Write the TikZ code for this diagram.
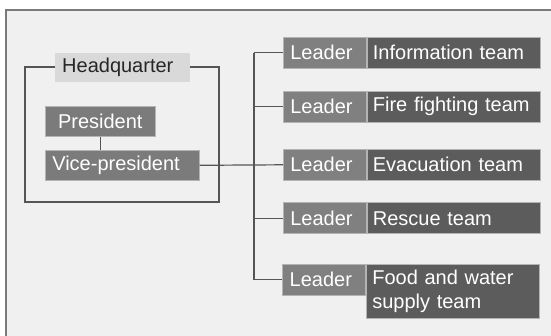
\documentclass[tikz,border=0pt]{standalone}
\usepackage{fontspec}
\setmainfont{Liberation Sans}
\definecolor{bgc}{HTML}{F0F0F0}
\definecolor{framec}{HTML}{7A7A7A}
\definecolor{linec}{HTML}{555555}
\definecolor{leadc}{HTML}{808080}
\definecolor{teamc}{HTML}{5C5C5C}
\definecolor{presc}{HTML}{7B7B7B}
\definecolor{hqc}{HTML}{D9D9D9}
\definecolor{edgec}{HTML}{B4B4B4}
\begin{document}
\begin{tikzpicture}[x=1pt,y=-1pt,
  txt/.style={font=\fontsize{20}{24}\selectfont},
  boxbase/.style={txt,anchor=north west,inner ysep=0pt,align=left,draw=edgec,line width=0.6pt,text=white},
  leadbox/.style={boxbase,fill=leadc,inner xsep=7pt,text width=69pt,minimum height=31pt},
  teambox/.style={boxbase,fill=teamc,inner xsep=6pt,text width=161pt,minimum height=31pt},
  presbox/.style={boxbase,fill=presc,inner xsep=7pt,minimum height=30pt},
  conn/.style={draw=linec,line width=1.2pt},
]
\useasboundingbox (0,0) rectangle (551,336);
\fill[white] (0,0) rectangle (551,336);
\begin{scope}
\clip (0,0) rectangle (551,336);
\draw[fill=bgc,draw=framec,line width=1.8pt] (6,10) rectangle (570,360);
\end{scope}
% headquarter frame
\draw[conn] (25,67) rectangle (219,202);
\node[txt,anchor=north west,fill=hqc,inner xsep=7pt,inner ysep=0pt,minimum height=29pt,text width=121pt,align=left,text=black!85] (hq) at (55,53) {Headquarter};
\node[presbox,text width=96pt,align=center] (pres) at (45,106) {President};
\node[presbox,text width=140pt] (vp) at (45,150) {Vice-president};
\draw[conn] (pres.south) -- (pres.south |- vp.north);
% rows
\node[leadbox] (l1) at (283,37) {Leader};
\node[teambox] (t1) at (l1.north east) {Information team};
\node[leadbox] (l2) at (283,91) {Leader};
\node[teambox] (t2) at (l2.north east) {Fire fighting team};
\node[leadbox] (l3) at (283,149) {Leader};
\node[teambox] (t3) at (l3.north east) {Evacuation team};
\node[leadbox] (l4) at (283,202.5) {Leader};
\node[teambox] (t4) at (l4.north east) {Rescue team};
\node[teambox,minimum height=54pt] (t5) at (366,264) {Food and water\\supply team};
\node[leadbox,anchor=north east] (l5) at (t5.north west) {Leader};
% bus
\coordinate (b1) at (254,0 |- l1.west);
\coordinate (b5) at (254,0 |- l5.west);
\draw[conn] (b1) -- (b5);
\draw[conn] (b1) -- (l1.west);
\draw[conn] (254,0 |- l2.west) -- (l2.west);
\draw[conn] (vp.east) -- (l3.west);
\draw[conn] (254,0 |- l4.west) -- (l4.west);
\draw[conn] (b5) -- (l5.west);
\end{tikzpicture}
\end{document}
